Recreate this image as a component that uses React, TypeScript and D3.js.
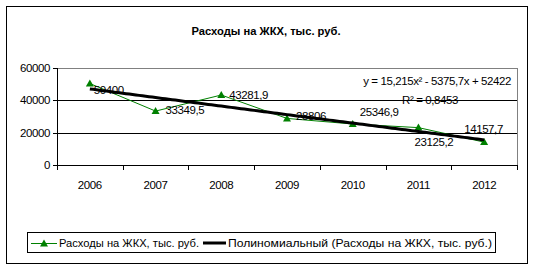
import React from "react";
import * as d3 from "d3";

const title = "Расходы на ЖКХ, тыс. руб.";
const years = ["2006", "2007", "2008", "2009", "2010", "2011", "2012"];
const expenses = [50400, 33349.5, 43281.9, 28806, 25346.9, 23125.2, 14157.7];
const yTicks = [0, 20000, 40000, 60000];
const seriesName = "Расходы на ЖКХ, тыс. руб.";
const trendName = "Полиномиальный (Расходы на ЖКХ, тыс. руб.)";
// trend equation shown on chart: y = a x^2 + b x + c
const trendA = 15.215;
const trendB = -5375.7;
const trendC = 52422;
const equationText = "y = 15,215x² - 5375,7x + 52422";
const r2Text = "R² = 0,8453";

// label placement offsets (layout)
const labelOffsets: [number, number][] = [
  [4, 6],
  [10, -1],
  [8, 0],
  [9, -2],
  [7, -12],
  [-4, 14],
  [-20, -13],
];

const W = 533;
const H = 270;
const font = "'Liberation Sans', Arial, sans-serif";
const green = "#008000";

export default function App() {
  const left = 57, right = 517, top = 68, bottom = 165;
  const x = d3.scaleBand<string>().domain(years).range([left, right]).padding(0);
  const y = d3.scaleLinear().domain([0, 60000]).range([bottom, top]);
  const cx = (i: number) => (x(years[i]) as number) + x.bandwidth() / 2;

  const line = d3
    .line<number>()
    .x((_, i) => cx(i))
    .y((d) => y(d));

  const trendX = d3.range(1, 7.0001, 0.05);
  const xLin = d3.scaleLinear().domain([1, 7]).range([cx(0), cx(6)]);
  const trendLine = d3
    .line<number>()
    .x((t) => xLin(t))
    .y((t) => y(trendA * t * t + trendB * t + trendC));

  const tri = (px: number, py: number, s = 4) =>
    `M${px},${py - s} L${px + s},${py + s - 1} L${px - s},${py + s - 1} Z`;

  const fmt = (v: number) => String(v).replace(".", ",");

  return (
    <svg
      width={W}
      height={H}
      style={{ position: "absolute", left: 0, top: 0, background: "#fff" }}
      fontFamily={font}
    >
      <rect x={6.5} y={6.5} width={521} height={257} fill="#fff" stroke="#000" strokeWidth={1} />
      <text
        x={266}
        y={35}
        textAnchor="middle"
        fontSize={11}
        fontWeight="bold"
        textLength={149}
        lengthAdjust="spacingAndGlyphs"
      >
        {title}
      </text>

      {/* gridlines */}
      {yTicks.map((t) => (
        <line
          key={t}
          x1={left}
          x2={right}
          y1={Math.round(y(t)) + 0.5}
          y2={Math.round(y(t)) + 0.5}
          stroke={t === 60000 ? "#808080" : "#000"}
          strokeWidth={1}
        />
      ))}
      <line x1={right + 0.5} x2={right + 0.5} y1={top} y2={bottom} stroke="#808080" />
      {/* axes */}
      <line x1={left + 0.5} x2={left + 0.5} y1={top} y2={bottom + 1} stroke="#000" />
      {yTicks.map((t) => (
        <g key={"yt" + t}>
          <line x1={left - 4} x2={left} y1={Math.round(y(t)) + 0.5} y2={Math.round(y(t)) + 0.5} stroke="#000" />
          <text x={50} y={y(t) + 4} textAnchor="end" fontSize={11.5} letterSpacing={-0.4}>
            {t}
          </text>
        </g>
      ))}
      {years.map((yr, i) => (
        <line
          key={"xt" + yr}
          x1={Math.round(x(yr) as number) + 0.5}
          x2={Math.round(x(yr) as number) + 0.5}
          y1={bottom}
          y2={bottom + 5}
          stroke="#000"
        />
      ))}
      <line x1={right + 0.5} x2={right + 0.5} y1={bottom} y2={bottom + 5} stroke="#000" />
      {years.map((yr, i) => (
        <text key={"xl" + yr} x={cx(i)} y={189} textAnchor="middle" fontSize={11.5} letterSpacing={-0.4}>
          {yr}
        </text>
      ))}

      {/* data series */}
      <path d={line(expenses) as string} fill="none" stroke={green} strokeWidth={1} />
      {expenses.map((v, i) => (
        <path key={"m" + i} d={tri(cx(i), y(v))} fill={green} />
      ))}

      {/* trend */}
      <path d={trendLine(trendX) as string} fill="none" stroke="#000" strokeWidth={3} />

      {/* data labels */}
      {expenses.map((v, i) => (
        <text
          key={"dl" + i}
          x={cx(i) + labelOffsets[i][0]}
          y={y(v) + labelOffsets[i][1] + 4}
          fontSize={11.5}
          letterSpacing={-0.4}
        >
          {fmt(v)}
        </text>
      ))}

      {/* equation */}
      <text x={511} y={85} textAnchor="end" fontSize={11.5} letterSpacing={-0.4}>
        {equationText}
      </text>
      <text x={402} y={104} fontSize={11.5} letterSpacing={-0.4}>
        {r2Text}
      </text>

      {/* legend */}
      <rect x={27.5} y={232.5} width={468} height={20} fill="#fff" stroke="#000" />
      <line x1={31} x2={57} y1={243.5} y2={243.5} stroke={green} />
      <path d={tri(44, 243.5)} fill={green} />
      <text x={59} y={247} fontSize={11} textLength={140} lengthAdjust="spacingAndGlyphs">
        {seriesName}
      </text>
      <line x1={203} x2={226} y1={243} y2={243} stroke="#000" strokeWidth={3} />
      <text x={228} y={247} fontSize={11} textLength={264} lengthAdjust="spacingAndGlyphs">
        {trendName}
      </text>
    </svg>
  );
}
